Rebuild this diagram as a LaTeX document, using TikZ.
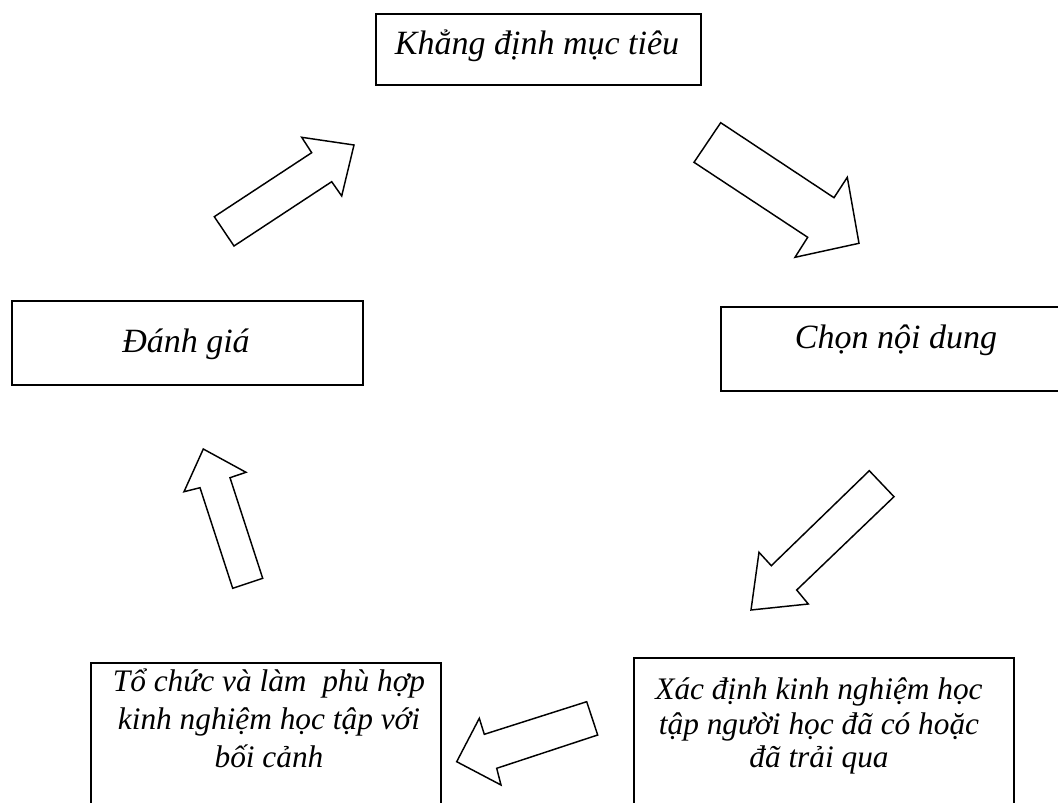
\documentclass[tikz,border=0pt]{standalone}
\usepackage{fontspec}
\setmainfont{Liberation Serif}
\begin{document}
\begin{tikzpicture}[x=0.75pt,y=-0.75pt,
  box/.style={draw,line width=1.3pt,inner sep=0pt,anchor=north west},
  lbl/.style={font=\fontsize{25.5}{29.5}\selectfont\itshape,anchor=base,inner sep=0pt},
  lbls/.style={font=\fontsize{23.5}{27}\selectfont\itshape,anchor=base,inner sep=0pt},
  blk/.style={draw,line width=1.1pt,line join=miter,fill=white}]
\useasboundingbox (0,0) rectangle (1058,803);
\clip (0,0) rectangle (1058,803);
% boxes
\node[box,minimum width=243.75pt,minimum height=53.25pt] (goal) at (375,13) {};
\node[box,minimum width=263.25pt,minimum height=63pt] (eval) at (11,300) {};
\node[box,minimum width=264pt,minimum height=63pt] (content) at (720,306) {};
\node[box,minimum width=262.5pt,minimum height=126pt] (org) at (90,662) {};
\node[box,minimum width=285pt,minimum height=129.75pt] (exp) at (633,657) {};
% labels
\node[lbl] (goalt) at (537,55) {Khẳng định mục tiêu};
\node[lbl] (evalt) at (186,352) {Đánh giá};
\node[lbl] (contentt) at (896,348) {Chọn nội dung};
\node[lbls] (orgt1) at (269,691) {Tổ chức và làm\ \ phù hợp};
\node[lbls] (orgt2) at (269,729) {kinh nghiệm học tập với};
\node[lbls] (orgt3) at (269,767) {bối cảnh};
\node[lbls] (expt1) at (819,699) {Xác định kinh nghiệm học};
\node[lbls] (expt2) at (819,734) {tập người học đã có hoặc};
\node[lbls] (expt3) at (819,767) {đã trải qua};
% block arrows
\draw[blk] (214.3,216.7) -- (311.7,152.7) -- (301.7,137.3) -- (354,145) -- (341.7,196) -- (331.7,181.7) -- (234,246) -- cycle;
\draw[blk] (720.7,122.7) -- (834,197.7) -- (847.3,177.3) -- (859,243.3) -- (795,257.3) -- (807.7,237.3) -- (694,162.3) -- cycle;
\draw[blk] (869.3,470.7) -- (894,496.7) -- (796.7,590) -- (808.3,604) -- (751,610) -- (759,552.3) -- (771.3,565.7) -- cycle;
\draw[blk] (203.3,449) -- (246,472.3) -- (230,477.7) -- (262.7,578.3) -- (232.7,588.3) -- (200,487.7) -- (184,491.7) -- cycle;
\draw[blk] (586.7,701.7) -- (597.7,735) -- (496.7,768.3) -- (501,785) -- (456.7,761.7) -- (479.3,718.3) -- (484.3,734.3) -- cycle;
\end{tikzpicture}
\end{document}
